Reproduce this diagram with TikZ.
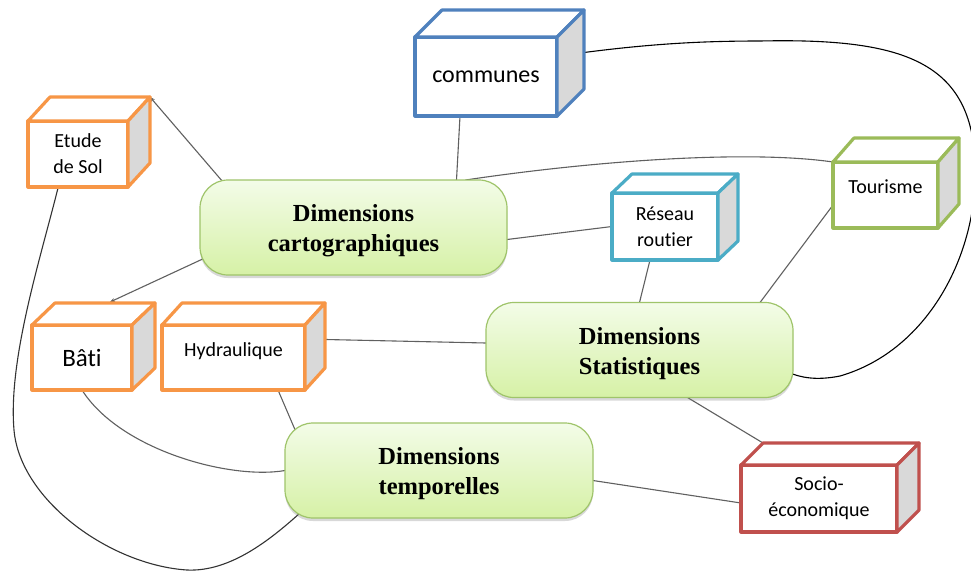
\documentclass[tikz,border=0pt]{standalone}
\usepackage{fontspec}
\setmainfont{Liberation Serif}
\newfontfamily\labfont[Ligatures=NoCommon]{Carlito}
\usetikzlibrary{shadows,calc,arrows.meta}

\definecolor{orangeb}{HTML}{F79646}
\definecolor{blueb}{HTML}{4F81BD}
\definecolor{tealb}{HTML}{4BACC6}
\definecolor{greenb}{HTML}{9BBB59}
\definecolor{redb}{HTML}{C0504D}
\definecolor{sidegray}{HTML}{D9D9D9}
\definecolor{linkgray}{HTML}{606060}
\definecolor{dimtop}{HTML}{F3FCE8}
\definecolor{dimbot}{HTML}{D6F1A6}
\definecolor{dimedge}{HTML}{9FC46A}

\pgfdeclarelayer{paper}
\pgfdeclarelayer{links}
\pgfsetlayers{paper,links,main}

% top and side faces of a box-shaped node: #1 node, #2/#3 depth offsets, #4 colour
\newcommand\cubefaces[4]{%
  \filldraw[draw=#4, fill=white, line width=3.2pt, line join=round]
    (#1.north west) -- ++(#2,-#3) -- ([shift={(#2,-#3)}]#1.north east) -- (#1.north east) -- cycle;
  \filldraw[draw=#4, fill=sidegray, line width=3.2pt, line join=round]
    (#1.north east) -- ([shift={(#2,-#3)}]#1.north east) -- ([shift={(#2,-#3)}]#1.south east) -- (#1.south east) -- cycle;
}
% two-line title, set slightly below the centre of its box
\newcommand\twolines[2]{\raisebox{-3pt}[\height][\depth]{\begin{tabular}{@{}c@{}}#1\\#2\end{tabular}}}

\begin{document}
\begin{tikzpicture}[x=1pt,y=-1pt,
  cube/.style={draw=#1, line width=3.2pt, line join=round, fill=white, inner sep=0pt, outer sep=0pt,
    align=center, font=\labfont\fontsize{20}{26}\selectfont},
  dimbox/.style={rounded corners=28pt, draw=dimedge, line width=1.2pt,
    top color=dimtop, bottom color=dimbot, minimum width=307pt, minimum height=95pt,
    inner sep=0pt, outer sep=0pt, align=center,
    font=\fontsize{24.5}{30}\selectfont\bfseries,
    drop shadow={shadow xshift=0pt, shadow yshift=-3pt, opacity=0.3, fill=black!50}},
  link/.style={draw=linkgray, line width=1.1pt},
  looplink/.style={draw=black!80, line width=1.1pt},
  tip/.style={-{Stealth[length=5pt,width=4pt]}}]

\begin{pgfonlayer}{paper}
\fill[white] (0,0) rectangle (971,574);
\end{pgfonlayer}
\useasboundingbox (0,0) rectangle (971,574);

% central themes
\node[dimbox] (carto) at (353.5,227.5) {\twolines{Dimensions}{cartographiques}};
\node[dimbox] (stat) at (639.5,350) {\twolines{Dimensions}{Statistiques}};
\node[dimbox, minimum width=308pt] (temp) at (439,470.5) {\twolines{Dimensions}{temporelles}};

% data boxes
\node[cube=blueb, minimum width=142pt, minimum height=79pt,
  font=\labfont\fontsize{24}{28}\selectfont] (comm) at (486,76.5) {communes};
\cubefaces{comm}{27}{27}{blueb}

\node[cube=orangeb, minimum width=100pt, minimum height=66pt] (etude) at (78,154) {Etude\\de Sol};
\cubefaces{etude}{22}{24}{orangeb}

\node[cube=tealb, minimum width=106pt, minimum height=67pt] (reseau) at (665,226.5) {Réseau\\routier};
\cubefaces{reseau}{20}{19}{tealb}

\node[cube=greenb, minimum width=105pt, minimum height=66pt] (tour) at (885.5,195)
  {\raisebox{8pt}[\height][\depth]{Tourisme}};
\cubefaces{tour}{21}{24}{greenb}

\node[cube=redb, minimum width=156pt, minimum height=67pt] (socio) at (819,498.5) {Socio-\\économique};
\cubefaces{socio}{22}{22}{redb}

\node[cube=orangeb, minimum width=100pt, minimum height=65pt,
  font=\labfont\fontsize{25}{28}\selectfont] (bati) at (82,357.5) {Bâti};
\cubefaces{bati}{23}{22}{orangeb}

\node[cube=orangeb, minimum width=143pt, minimum height=65pt] (hydr) at (233.5,357.5)
  {\raisebox{6pt}[\height][\depth]{Hydraulique}};
\cubefaces{hydr}{20}{22}{orangeb}

% connectors
\begin{pgfonlayer}{links}
\draw[link,tip] ([shift={(23,2)}]carto.north west) -- ([shift={(22,-24)}]etude.north east);
\draw[looplink] ([shift={(-20,1)}]etude.south) .. controls (40,260) and (8,360) .. (14,430)
  .. controls (20,500) and (110,565) .. (187,570)
  .. controls (230,572) and (270,540) .. ([shift={(15,-5)}]temp.south west);
\draw[link,tip] ([shift={(7,-18)}]carto.south west) -- ([shift={(28,-23)}]bati.north);
\draw[link] (bati.south) .. controls (120,450) and (230,480) .. (temp.west);
\draw[link] ([shift={(-27,0)}]hydr.south east) -- ([shift={(11,9)}]temp.north west);
\draw[link] ([shift={(21,-18)}]hydr.east) -- ([shift={(0,-7)}]stat.west);
\draw[link] ([shift={(-26,0)}]comm.south) -- ([shift={(103,0)}]carto.north);
\draw[link] ([shift={(112,0)}]carto.north) .. controls (600,160) and (750,150) .. (tour.north west);
\draw[link] ([shift={(0,12)}]carto.east) -- (reseau.west);
\draw[link] ([shift={(-15,0)}]reseau.south) -- (stat.north);
\draw[link] ([shift={(0,10)}]tour.west) -- ([shift={(-33,0)}]stat.north east);
\draw[draw=black, line width=1.1pt] ([shift={(27,-24)}]comm.east)
  .. controls (650,44) and (700,41) .. (760,41)
  .. controls (900,38) and (970,60) .. (975,160)
  .. controls (980,250) and (930,350) .. (840,376)
  .. controls (815,381) and (800,377) .. ([shift={(-3,23)}]stat.east);
\draw[link] ([shift={(48,0)}]stat.south) -- ([shift={(22,-22)}]socio.north west);
\draw[link] ([shift={(0,10)}]temp.east) -- ([shift={(0,4.5)}]socio.west);
\end{pgfonlayer}
\end{tikzpicture}
\end{document}
